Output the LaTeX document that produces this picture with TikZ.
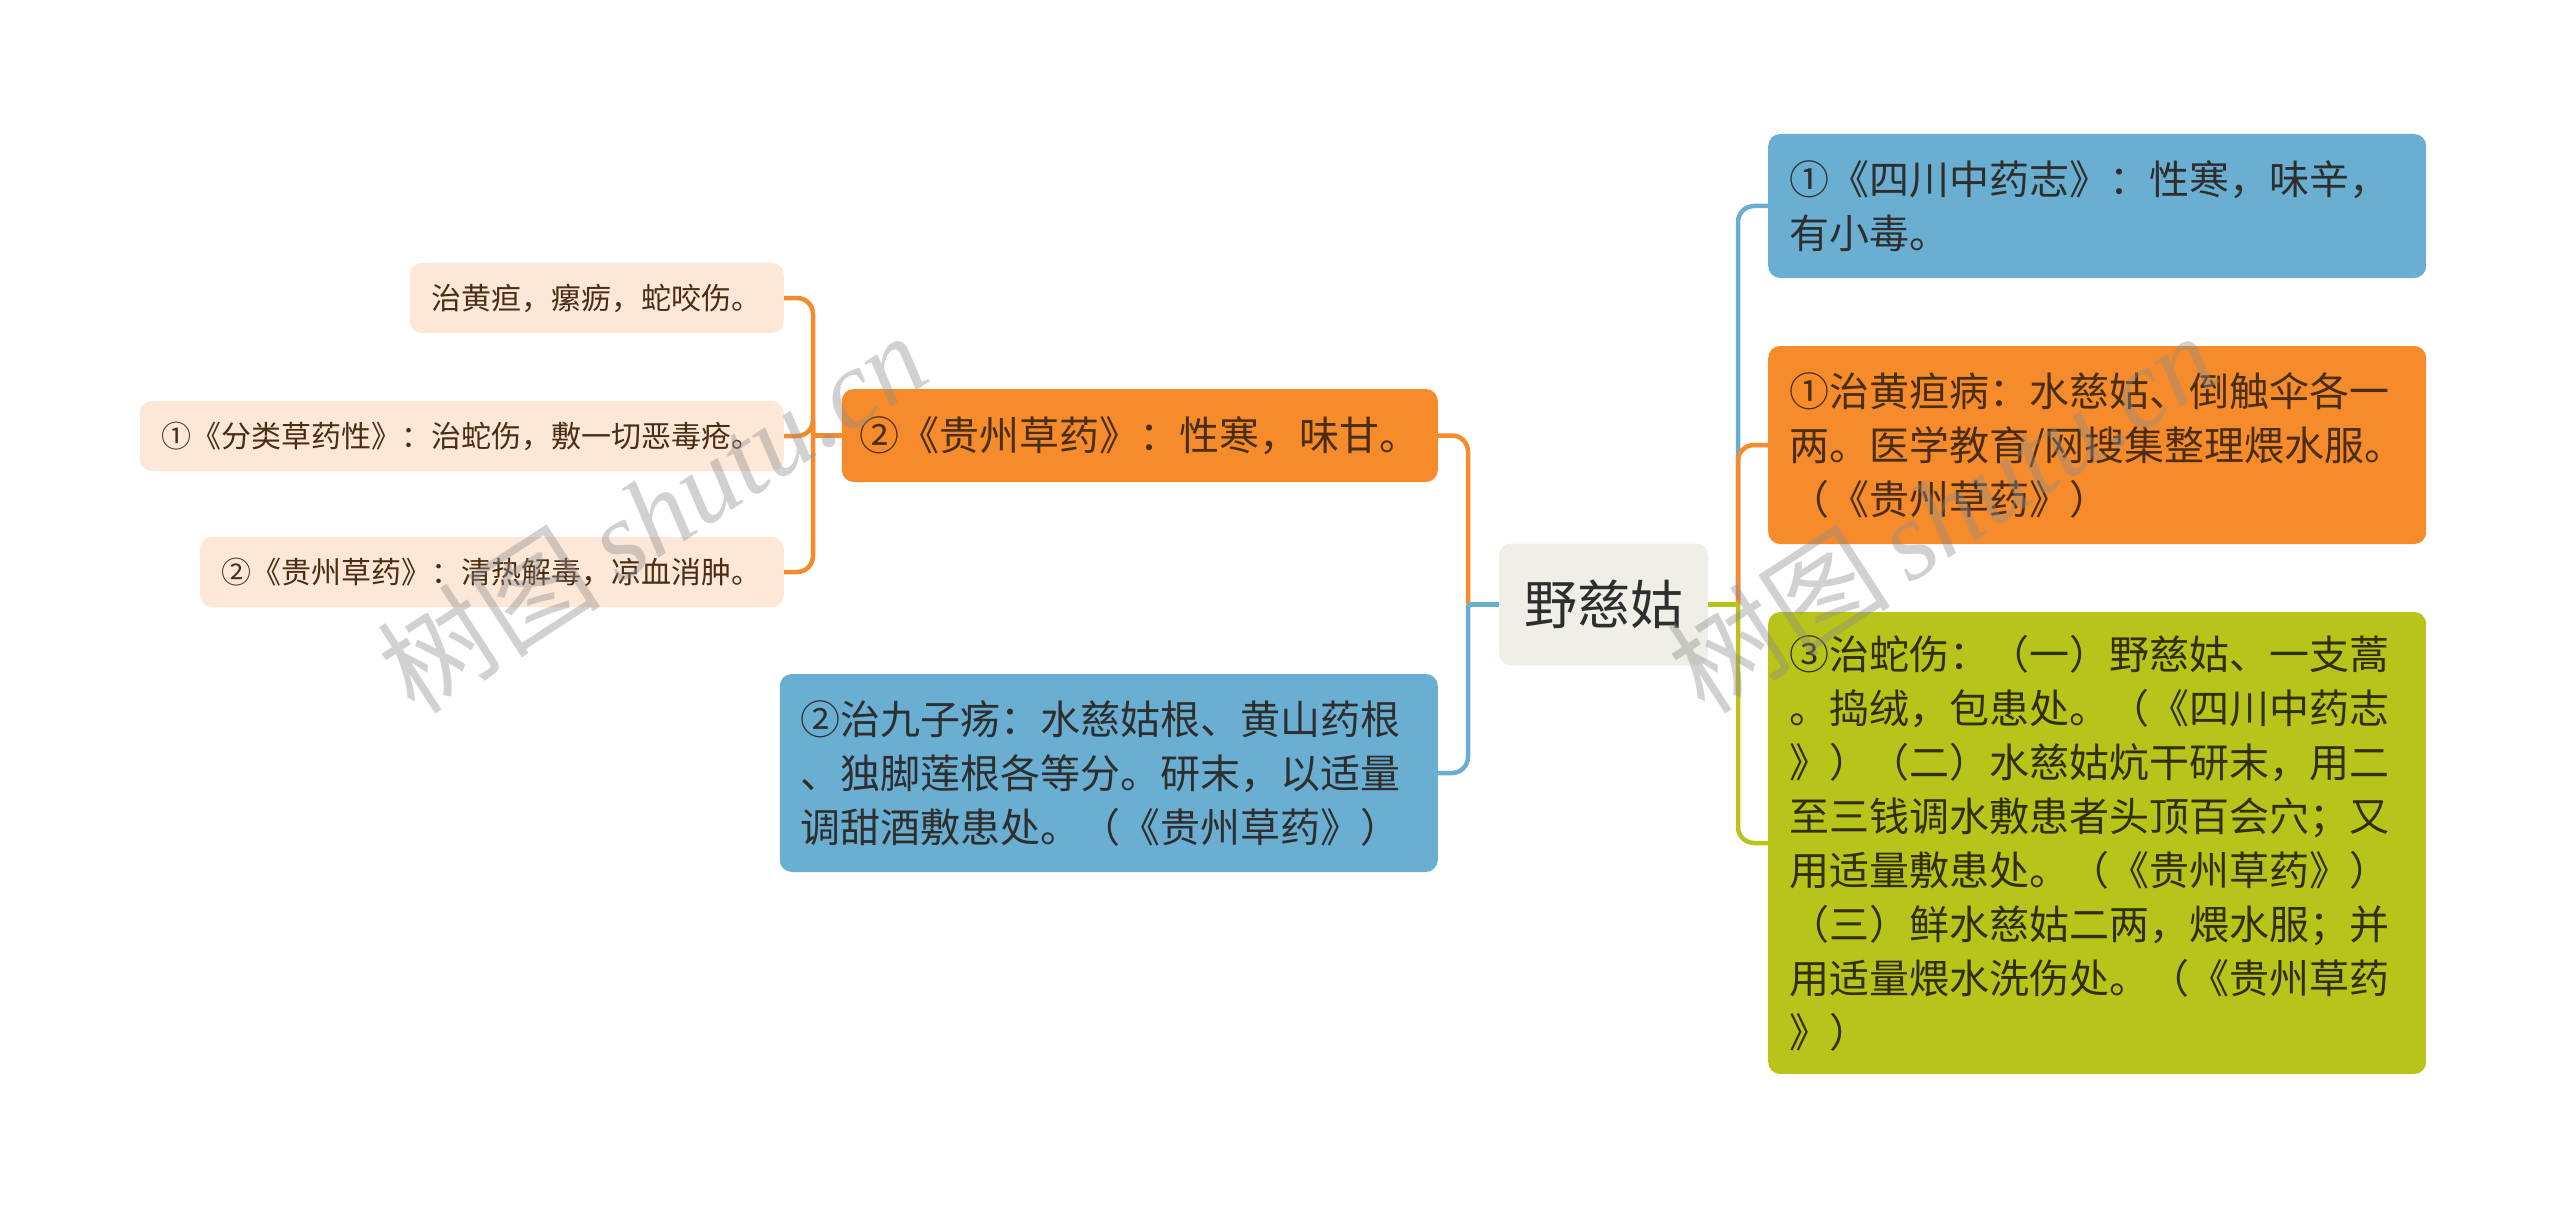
\documentclass[tikz,border=0pt]{standalone}
\usepackage{fontspec}
\newfontfamily\cjk{Noto Sans CJK SC}
\newfontfamily\wmserif{Liberation Serif}
\definecolor{cblue}{HTML}{6AAFD2}
\definecolor{corange}{HTML}{F68B2B}
\definecolor{cgreen}{HTML}{B8C41A}
\definecolor{cpeach}{HTML}{FDE7D6}
\definecolor{croot}{HTML}{EFEFE7}
\definecolor{tdark}{HTML}{2E2E2E}
\definecolor{tbrown}{HTML}{4A2E14}
\definecolor{tolive}{HTML}{2F3008}
\tikzset{
  box/.style={rounded corners=12pt, inner ysep=0pt, align=left},
  big/.style={font=\cjk\fontsize{40}{54}\selectfont},
  small/.style={font=\cjk\fontsize{30}{40}\selectfont},
  leaf/.style={box, small, fill=cpeach, text=tbrown, inner xsep=22pt, minimum height=70pt, anchor=east},
  wide/.style={box, big, text width=616pt, inner xsep=21pt, anchor=west},
  conn/.style={line width=4.5pt, rounded corners=16pt},
  wm/.style={text=black!45, opacity=0.4, rotate=33, font=\fontsize{112}{112}\selectfont}
}
\begin{document}
\begin{tikzpicture}[x=1pt,y=-1pt]
\useasboundingbox (0,0) rectangle (2560,1209);
% nodes
\node[box, fill=croot, text=tdark, font=\cjk\fontsize{53}{60}\selectfont, inner xsep=25pt, minimum height=122pt] (root) at (1603.5,604.5) {野慈姑};
\node[wide, fill=cblue, text=tdark, minimum height=144pt] (r1) at (1768,206) {①《四川中药志》：性寒，味辛，\\有小毒。};
\node[wide, fill=corange, text=tbrown, minimum height=198pt] (r2) at (1768,445) {①治黄疸病：水慈姑、倒触伞各一\\两。医学教育/网搜集整理煨水服。\\（《贵州草药》）};
\node[wide, fill=cgreen, text=tolive, minimum height=462pt] (r3) at (1768,843) {③治蛇伤：（一）野慈姑、一支蒿\\。捣绒，包患处。（《四川中药志\\》）（二）水慈姑炕干研末，用二\\至三钱调水敷患者头顶百会穴；又\\用适量敷患处。（《贵州草药》）\\（三）鲜水慈姑二两，煨水服；并\\用适量煨水洗伤处。（《贵州草药\\》）};
\node[box, big, fill=corange, text=tbrown, inner xsep=18pt, minimum height=93pt, anchor=east] (l1) at (1438,435.5) {②《贵州草药》：性寒，味甘。};
\node[wide, fill=cblue, text=tdark, minimum height=198pt, anchor=east] (l2) at (1438,773) {②治九子疡：水慈姑根、黄山药根\\、独脚莲根各等分。研末，以适量\\调甜酒敷患处。（《贵州草药》）};
\node[leaf] (ll1) at (784,298) {治黄疸，瘰疬，蛇咬伤。};
\node[leaf] (ll2) at (784,436) {①《分类草药性》：治蛇伤，敷一切恶毒疮。};
\node[leaf] (ll3) at (784,572) {②《贵州草药》：清热解毒，凉血消肿。};
% junctions
\coordinate (jl) at (1468,604.5);
\coordinate (jr) at (1738,604.5);
\coordinate (jll) at (813,435.5);
% connectors
\draw[conn, corange] (jl) |- (l1.east);
\draw[conn, cblue] (jl) |- (l2.east);
\draw[conn, cblue] (root.west) -- (jl);
\draw[conn, cblue] (jr) |- (r1.west);
\draw[conn, corange] (jr) |- (r2.west);
\draw[conn, cgreen] (jr) |- (r3.west);
\draw[conn, cgreen] (root.east) -- (jr);
\draw[conn, corange] (l1.west) -- (jll);
\draw[conn, corange] (jll) |- (ll1.east);
\draw[conn, corange] (jll) |- (ll2.east);
\draw[conn, corange] (jll) |- (ll3.east);
% watermarks
\node[wm] (wm1) at (652,512) {\cjk 树图\,\wmserif\itshape shutu.cn};
\node[wm] (wm2) at (1942,512) {\cjk 树图\,\wmserif\itshape shutu.cn};
\end{tikzpicture}
\end{document}
